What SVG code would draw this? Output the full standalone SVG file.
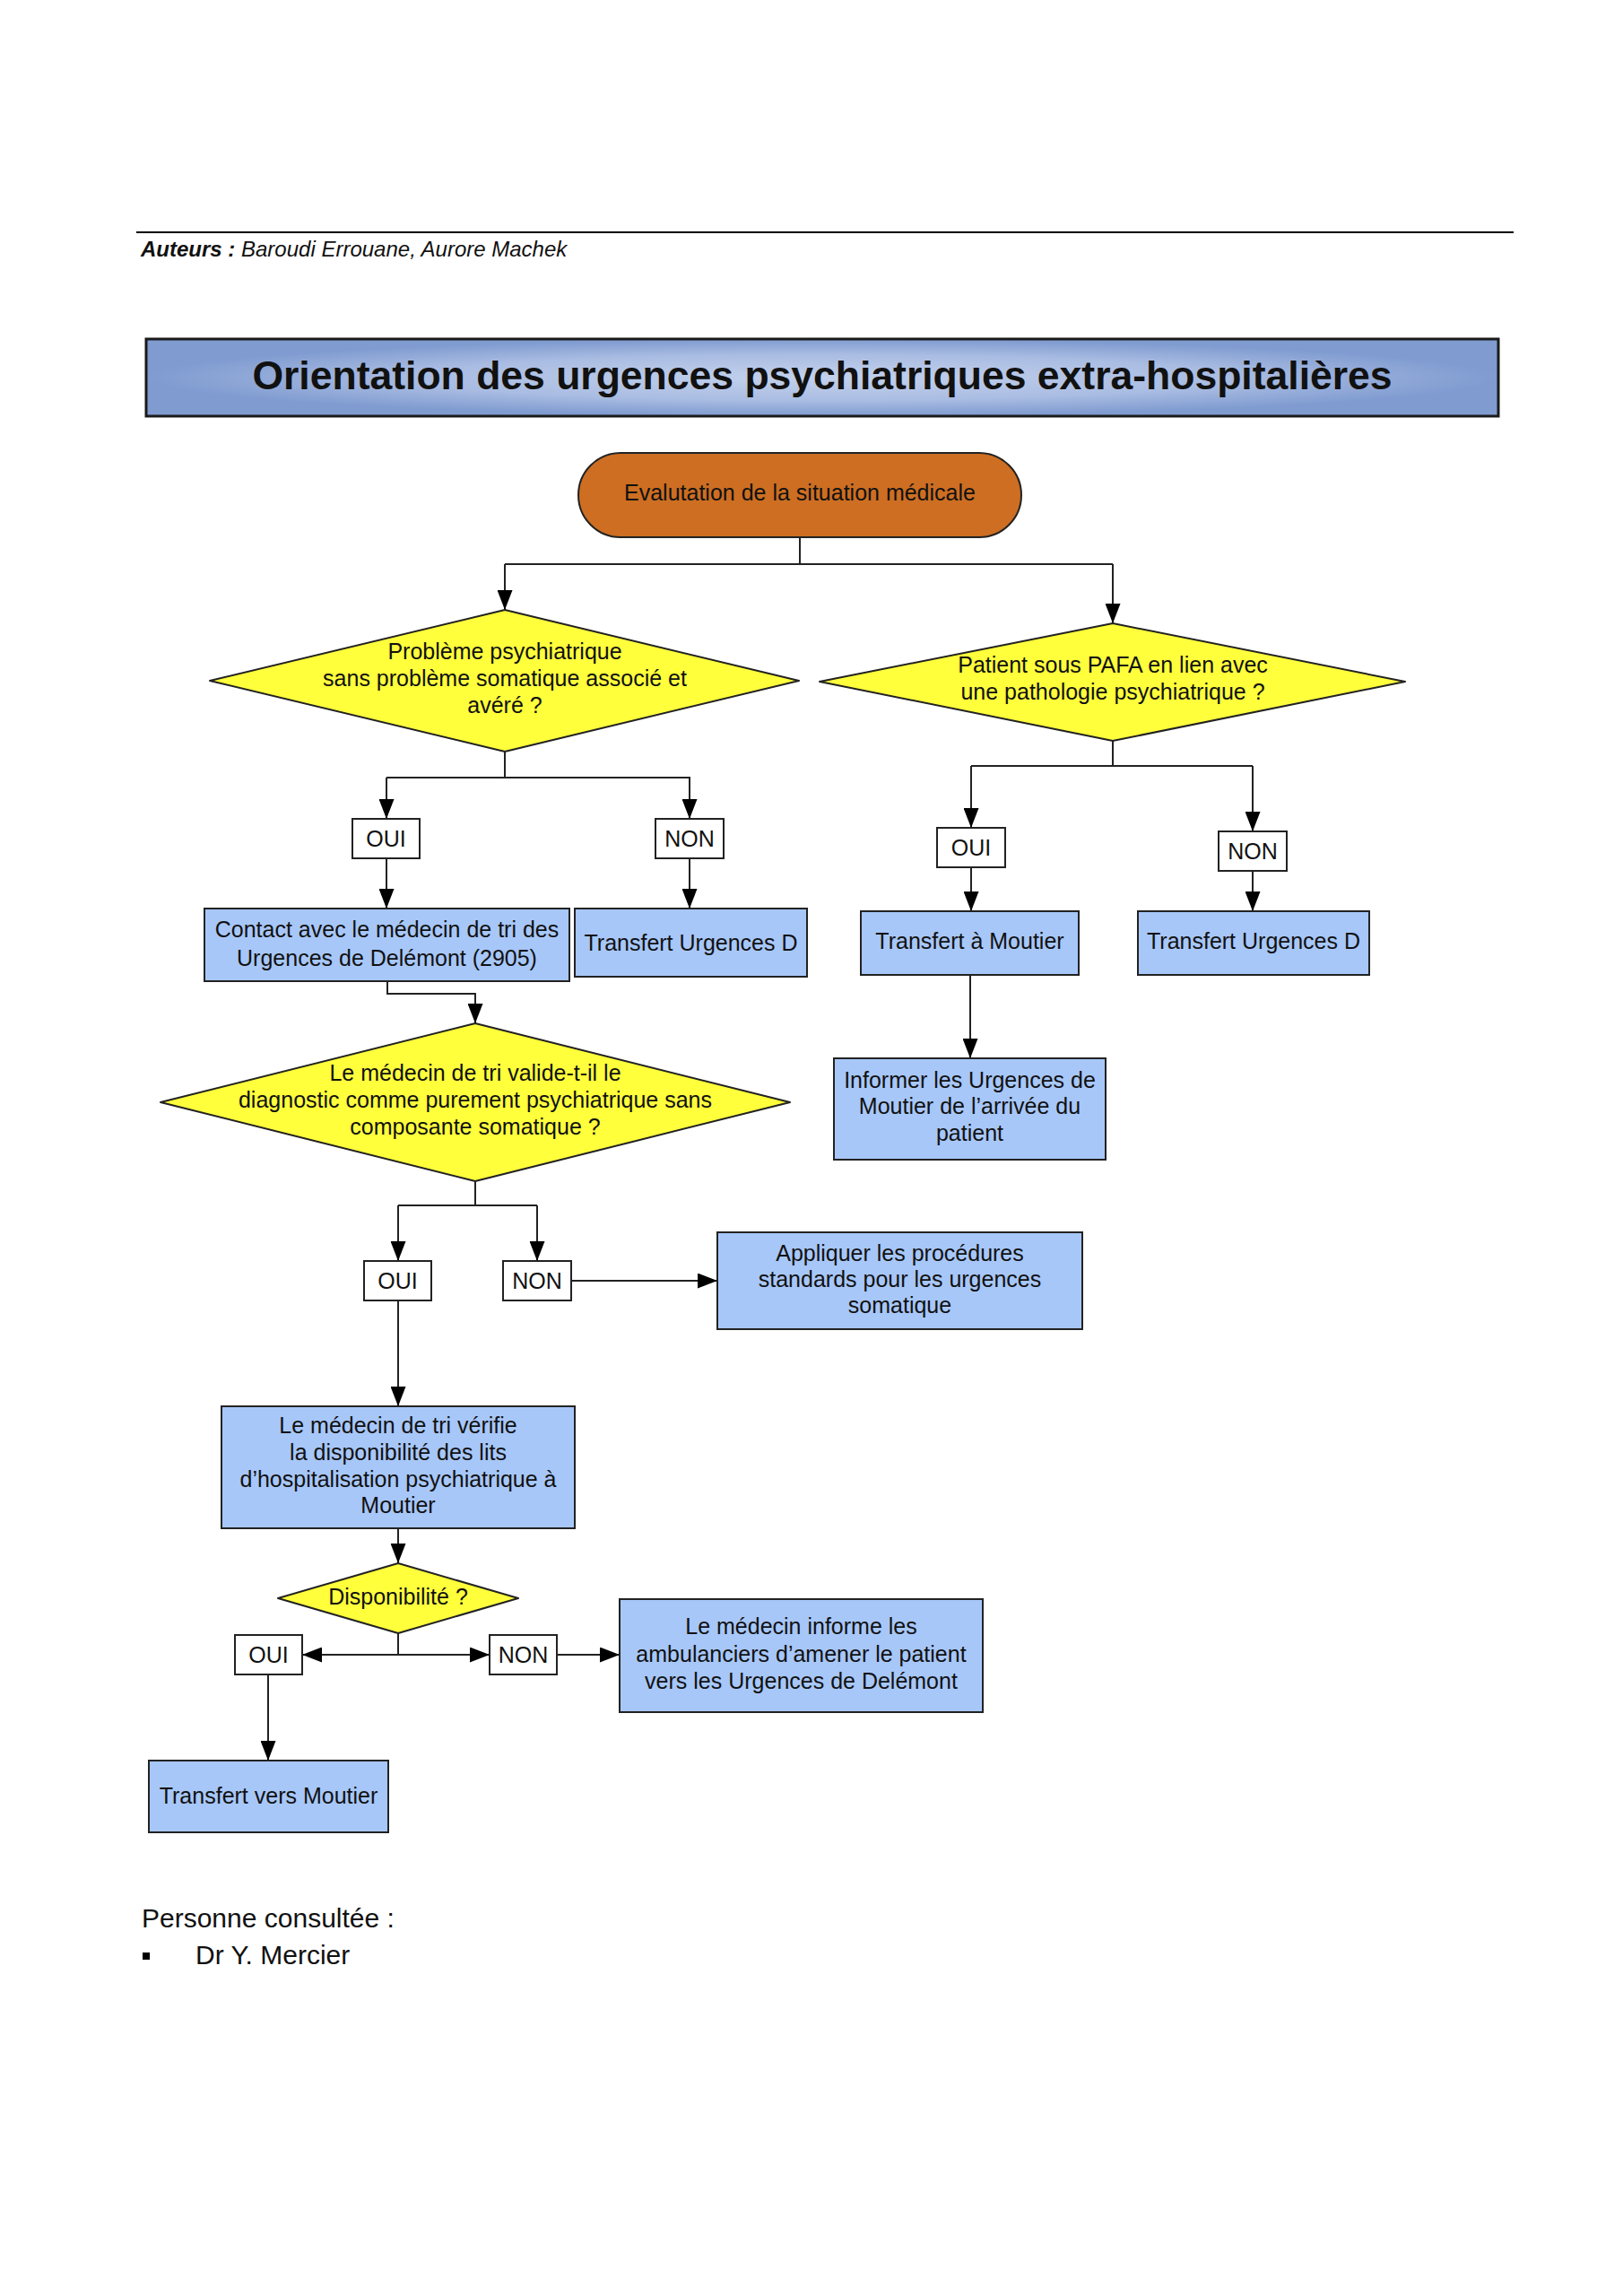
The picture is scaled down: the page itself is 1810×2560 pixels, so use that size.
<svg xmlns="http://www.w3.org/2000/svg" width="1810" height="2560" viewBox="0 0 1810 2560">
<defs>
<marker id="arr" markerUnits="userSpaceOnUse" markerWidth="22" markerHeight="17" viewBox="0 0 22 17" refX="22" refY="8.5" orient="auto">
<path d="M0,0 L22,8.5 L0,17 z" fill="#000"/>
</marker>
<radialGradient id="tg" cx="50%" cy="50%" r="50%">
<stop offset="0" stop-color="#c3d1ec"/>
<stop offset="0.6" stop-color="#a9bce2"/>
<stop offset="1" stop-color="#7f9bd0"/>
</radialGradient>
</defs>
<style>
text{font-family:"Liberation Sans",Arial,sans-serif;fill:#111}
.t{font-size:25px;text-anchor:middle}
.box{fill:#a7c7f9;stroke:#222;stroke-width:2}
.dia{fill:#ffff3c;stroke:#222;stroke-width:2;stroke-linejoin:round}
.lab{fill:#fff;stroke:#222;stroke-width:2}
.c{fill:none;stroke:#222;stroke-width:2}
</style>
<rect width="1810" height="2560" fill="#fff"/>

<line x1="152" y1="259" x2="1688" y2="259" stroke="#000" stroke-width="2"/>
<text x="157" y="286" font-size="24" font-style="italic"><tspan font-weight="bold">Auteurs :</tspan> Baroudi Errouane, Aurore Machek</text>

<g id="title">
<rect x="163" y="378" width="1508" height="86" fill="url(#tg)" stroke="#1a1a1a" stroke-width="3"/>
<text x="917" y="434" font-size="44.5" font-weight="bold" text-anchor="middle">Orientation des urgences psychiatriques extra-hospitalières</text>
</g>

<g id="connectors">
<path class="c" d="M892,599 V629 M563,629 H1241"/>
<path class="c" d="M563,629 V680" marker-end="url(#arr)"/>
<path class="c" d="M1241,629 V695" marker-end="url(#arr)"/>
<path class="c" d="M563,838 V867 M431,867 H770"/>
<path class="c" d="M431,867 V913" marker-end="url(#arr)"/>
<path class="c" d="M769,867 V913" marker-end="url(#arr)"/>
<path class="c" d="M431,957 V1013" marker-end="url(#arr)"/>
<path class="c" d="M769,957 V1013" marker-end="url(#arr)"/>
<path class="c" d="M432,1094 V1108 H530 V1141" marker-end="url(#arr)"/>
<path class="c" d="M530,1317 V1344 M444,1344 H599"/>
<path class="c" d="M444,1344 V1406" marker-end="url(#arr)"/>
<path class="c" d="M599,1344 V1406" marker-end="url(#arr)"/>
<path class="c" d="M637,1428 H800" marker-end="url(#arr)"/>
<path class="c" d="M444,1450 V1568" marker-end="url(#arr)"/>
<path class="c" d="M444,1704 V1743" marker-end="url(#arr)"/>
<path class="c" d="M444,1821 V1845"/>
<path class="c" d="M444,1845 H337" marker-end="url(#arr)"/>
<path class="c" d="M444,1845 H546" marker-end="url(#arr)"/>
<path class="c" d="M621,1845 H691" marker-end="url(#arr)"/>
<path class="c" d="M299,1867 V1963" marker-end="url(#arr)"/>
<path class="c" d="M1241,826 V854 M1083,854 H1397"/>
<path class="c" d="M1083,854 V923" marker-end="url(#arr)"/>
<path class="c" d="M1397,854 V927" marker-end="url(#arr)"/>
<path class="c" d="M1083,967 V1016" marker-end="url(#arr)"/>
<path class="c" d="M1397,971 V1016" marker-end="url(#arr)"/>
<path class="c" d="M1082,1087 V1180" marker-end="url(#arr)"/>
</g>

<g id="start">
<rect x="645" y="505" width="494" height="94" rx="47" fill="#cd6e22" stroke="#222" stroke-width="2"/>
<text class="t" x="892" y="558">Evalutation de la situation médicale</text>
</g>

<g id="q1">
<polygon class="dia" points="563,680 891,759 563,838 234,759"/>
<text class="t" x="563" y="735">Problème psychiatrique</text>
<text class="t" x="563" y="765">sans problème somatique associé et</text>
<text class="t" x="563" y="795">avéré ?</text>
</g>

<g id="q2">
<polygon class="dia" points="1241,695 1567,760 1241,826 914,760"/>
<text class="t" x="1241" y="750">Patient sous PAFA en lien avec</text>
<text class="t" x="1241" y="780">une pathologie psychiatrique ?</text>
</g>

<g id="q1-oui"><rect class="lab" x="393" y="913" width="75" height="44"/><text class="t" x="430.5" y="944">OUI</text></g>
<g id="q1-non"><rect class="lab" x="731" y="913" width="76" height="44"/><text class="t" x="769" y="944">NON</text></g>

<g id="contact">
<rect class="box" x="228" y="1013" width="407" height="81"/>
<text class="t" x="431.5" y="1045">Contact avec le médecin de tri des</text>
<text class="t" x="431.5" y="1077">Urgences de Delémont (2905)</text>
</g>

<g id="transfert-d1">
<rect class="box" x="641" y="1013" width="259" height="76"/>
<text class="t" x="770.5" y="1060">Transfert Urgences D</text>
</g>

<g id="q2-oui"><rect class="lab" x="1045" y="923" width="76" height="44"/><text class="t" x="1083" y="954">OUI</text></g>
<g id="q2-non"><rect class="lab" x="1359" y="927" width="76" height="44"/><text class="t" x="1397" y="958">NON</text></g>

<g id="transfert-moutier">
<rect class="box" x="960" y="1016" width="243" height="71"/>
<text class="t" x="1081.5" y="1058">Transfert à Moutier</text>
</g>

<g id="transfert-d2">
<rect class="box" x="1269" y="1016" width="258" height="71"/>
<text class="t" x="1398" y="1058">Transfert Urgences D</text>
</g>

<g id="informer">
<rect class="box" x="930" y="1180" width="303" height="113"/>
<text class="t" x="1081.5" y="1213">Informer les Urgences de</text>
<text class="t" x="1081.5" y="1242">Moutier de l’arrivée du</text>
<text class="t" x="1081.5" y="1272">patient</text>
</g>

<g id="q3">
<polygon class="dia" points="530,1141 881,1229 530,1317 179,1229"/>
<text class="t" x="530" y="1205">Le médecin de tri valide-t-il le</text>
<text class="t" x="530" y="1235">diagnostic comme purement psychiatrique sans</text>
<text class="t" x="530" y="1265">composante somatique ?</text>
</g>

<g id="q3-oui"><rect class="lab" x="406" y="1406" width="75" height="44"/><text class="t" x="443.5" y="1437">OUI</text></g>
<g id="q3-non"><rect class="lab" x="561" y="1406" width="76" height="44"/><text class="t" x="599" y="1437">NON</text></g>

<g id="appliquer">
<rect class="box" x="800" y="1374" width="407" height="108"/>
<text class="t" x="1003.5" y="1406">Appliquer les procédures</text>
<text class="t" x="1003.5" y="1435">standards pour les urgences</text>
<text class="t" x="1003.5" y="1464">somatique</text>
</g>

<g id="verifie">
<rect class="box" x="247" y="1568" width="394" height="136"/>
<text class="t" x="444" y="1598">Le médecin de tri vérifie</text>
<text class="t" x="444" y="1628">la disponibilité des lits</text>
<text class="t" x="444" y="1658">d’hospitalisation psychiatrique à</text>
<text class="t" x="444" y="1687">Moutier</text>
</g>

<g id="q4">
<polygon class="dia" points="444,1743 578,1782 444,1821 310,1782"/>
<text class="t" x="444" y="1789">Disponibilité ?</text>
</g>

<g id="q4-oui"><rect class="lab" x="262" y="1823" width="75" height="44"/><text class="t" x="299.5" y="1854">OUI</text></g>
<g id="q4-non"><rect class="lab" x="546" y="1823" width="75" height="44"/><text class="t" x="583.5" y="1854">NON</text></g>

<g id="informe-ambulanciers">
<rect class="box" x="691" y="1783" width="405" height="126"/>
<text class="t" x="893.5" y="1822">Le médecin informe les</text>
<text class="t" x="893.5" y="1853">ambulanciers d’amener le patient</text>
<text class="t" x="893.5" y="1883">vers les Urgences de Delémont</text>
</g>

<g id="transfert-vers-moutier">
<rect class="box" x="166" y="1963" width="267" height="80"/>
<text class="t" x="299.5" y="2011">Transfert vers Moutier</text>
</g>

<text x="158" y="2149" font-size="30">Personne consultée :</text>
<rect x="159" y="2177" width="8" height="8" fill="#000"/>
<text x="218" y="2190" font-size="30">Dr Y. Mercier</text>
</svg>
